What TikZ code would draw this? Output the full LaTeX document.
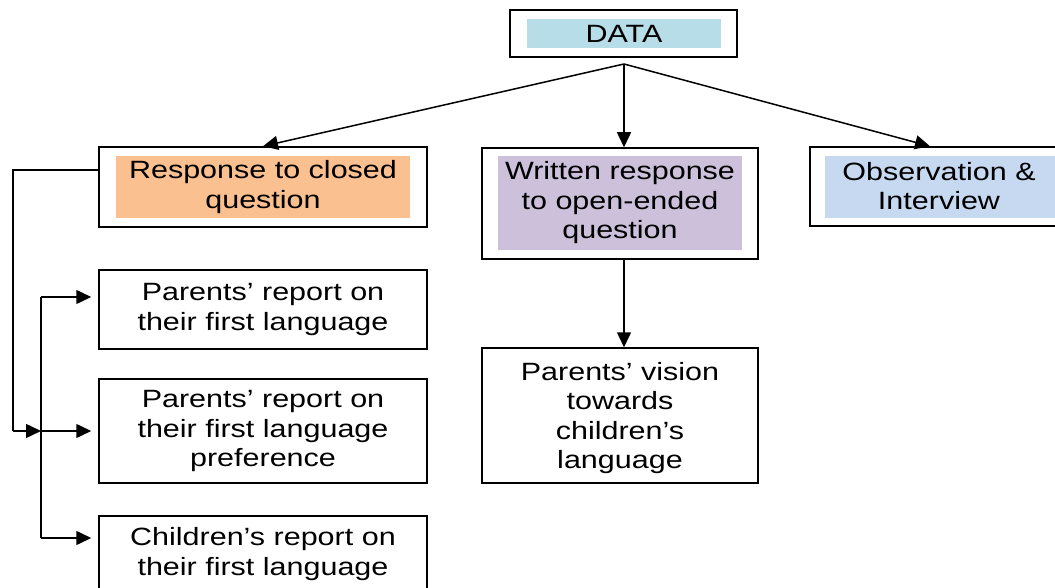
\documentclass[tikz,border=0pt]{standalone}
\usepackage{fontspec}
\setmainfont{Liberation Sans}[FakeStretch=1.22]
\usetikzlibrary{arrows.meta}
\definecolor{cdata}{HTML}{B7DDE8}
\definecolor{cresp}{HTML}{FAC090}
\definecolor{cwrit}{HTML}{CCC0DA}
\definecolor{cobs}{HTML}{C6D9F1}
\begin{document}
\begin{tikzpicture}[x=1pt,y=-1pt,
  font=\fontsize{25}{29.5}\selectfont,
  box/.style={draw=black, line width=1.5pt, inner sep=0pt, align=center},
  fillbox/.style={inner sep=0pt, align=center},
  conn/.style={line width=1.5pt},
  arr/.style={line width=1.5pt, -{Triangle[length=15pt,width=14pt]}}]
\useasboundingbox (0,0) rectangle (1055,588);
% top
\node[box, minimum width=227pt, minimum height=47pt] (data) at (623.5,33.5) {};
\node[fillbox, fill=cdata, minimum width=194pt, minimum height=29pt] (datat) at (624,33.5) {DATA};
% second row
\node[box, minimum width=328pt, minimum height=80pt] (resp) at (263,187) {};
\node[fillbox, fill=cresp, minimum width=294pt, minimum height=62pt] (respt) at (263,187) {Response to closed\\question};
\node[box, minimum width=276pt, minimum height=111pt] (writ) at (620,203.5) {};
\node[fillbox, fill=cwrit, minimum width=244pt, minimum height=94pt] (writt) at (620,203) {Written response\\to open-ended\\question};
\node[box, minimum width=262pt, minimum height=79pt] (obs) at (941,186.5) {};
\node[fillbox, fill=cobs, minimum width=232pt, minimum height=62pt] (obst) at (941,187) {};
\node[fillbox] (obstx) at (939,186) {Observation \&\\Interview};
% leaves
\node[box, minimum width=328pt, minimum height=79pt] (p1) at (263,309.5) {Parents’ report on\\their first language};
\node[box, minimum width=328pt, minimum height=104pt] (p2) at (263,431) {Parents’ report on\\their first language\\preference};
\node[box, minimum width=328pt, minimum height=76pt] (p3) at (263,554) {Children’s report on\\their first language};
\node[box, minimum width=276pt, minimum height=135pt, text depth=0pt] (vis) at (620,415.5) {Parents’ vision\\towards\\children’s\\language};
% connectors
\coordinate (apex) at (624,64);
\draw[arr] (apex) -- (resp.north);
\draw[arr] (apex) -- (apex |- writ.north);
\draw[arr] (apex) -- ([xshift=-11pt]obs.north);
\draw[arr] (apex |- writ.south) -- (apex |- vis.north);
\coordinate (L) at (13,431);
\coordinate (J) at (41,431);
\coordinate (T) at (41,297);
\coordinate (B) at (41,538);
\draw[conn] ([yshift=17pt]resp.west) -| (L);
\draw[arr] (L) -- (J);
\draw[arr, shorten >=7pt] (J) -- (p2.west);
\draw[conn] (T) -- (B);
\draw[arr, shorten >=7pt] (T) -- (T -| p1.west);
\draw[arr, shorten >=7pt] (B) -- (B -| p3.west);
\end{tikzpicture}
\end{document}
